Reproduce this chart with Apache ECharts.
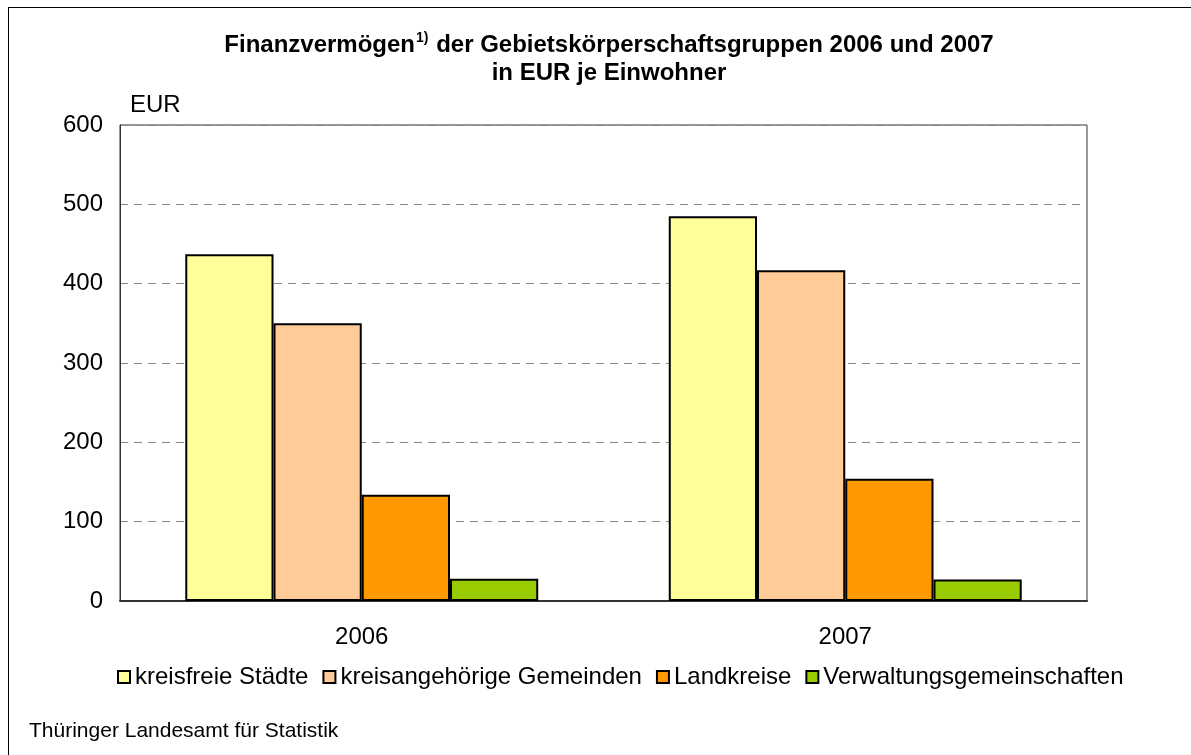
<!doctype html>
<html>
<head>
<meta charset="utf-8">
<title>Finanzvermögen</title>
<script src="https://cdn.jsdelivr.net/npm/echarts@6/dist/echarts.min.js"></script>
<style>
  html, body { margin: 0; padding: 0; background: #fff; }
  #frame { position: absolute; left: 8px; top: 7px; width: 1200px; height: 760px; border-left: 1px solid #000; border-top: 1px solid #000; }
  #chart { position: absolute; left: 0; top: 0; width: 1191px; height: 755px; }
</style>
</head>
<body>
<div id="frame"></div>
<div id="chart"></div>
<script>
var years = ['2006', '2007'];
var seriesNames = ['kreisfreie Städte', 'kreisangehörige Gemeinden', 'Landkreise', 'Verwaltungsgemeinschaften'];
var kreisfreieStaedte = [437, 485];
var kreisangehoerigeGemeinden = [350, 417];
var landkreise = [134, 154];
var verwaltungsgemeinschaften = [28, 27];
var colors = ['#ffff99', '#ffcc99', '#ff9900', '#99cc00'];
var allValues = [kreisfreieStaedte, kreisangehoerigeGemeinden, landkreise, verwaltungsgemeinschaften];

var font = 'Liberation Sans, Arial, sans-serif';

var series = [];
for (var i = 0; i < seriesNames.length; i++) {
  series.push({
    name: seriesNames[i],
    type: 'bar',
    data: allValues[i],
    barGap: '0%',
    barCategoryGap: '27%',
    itemStyle: { color: colors[i], borderColor: '#000', borderWidth: 2 }
  });
}

var option = {
  animation: false,
  textStyle: { fontFamily: font },
  legend: {
    data: seriesNames,
    top: 660,
    left: 112,
    itemWidth: 12,
    itemHeight: 12,
    itemGap: 14,
    icon: 'rect',
    itemStyle: { borderColor: '#000', borderWidth: 2 },
    textStyle: { fontFamily: font, fontSize: 24, color: '#000' }
  },
  grid: { left: 120, right: 104, top: 125, bottom: 154, show: true, borderColor: '#333', borderWidth: 1, backgroundColor: 'transparent' },
  xAxis: {
    type: 'category',
    data: years,
    axisLine: { lineStyle: { color: '#333', width: 2 } },
    axisTick: { show: false },
    axisLabel: { fontFamily: font, fontSize: 24, color: '#000', margin: 24 }
  },
  yAxis: {
    type: 'value',
    min: 0,
    max: 600,
    interval: 100,
    axisLine: { show: true, lineStyle: { color: '#333', width: 1 } },
    axisTick: { show: false },
    axisLabel: { fontFamily: font, fontSize: 24, color: '#000', margin: 17 },
    splitLine: { lineStyle: { color: '#888', type: [8, 6], width: 1 } }
  },
  graphic: [
    {
      type: 'text',
      x: 609,
      y: 45,
      style: {
        text: '{t|Finanzvermögen}{s|1)}{t| der Gebietskörperschaftsgruppen 2006 und 2007}',
        align: 'center',
        verticalAlign: 'middle',
        rich: {
          t: { fontFamily: font, fontWeight: 'bold', fontSize: 24, fill: '#000' },
          s: { fontFamily: font, fontWeight: 'bold', fontSize: 14, fill: '#000', padding: [0, 1, 14, 1] }
        }
      }
    },
    {
      type: 'text',
      x: 609,
      y: 73,
      style: { text: 'in EUR je Einwohner', align: 'center', verticalAlign: 'middle', font: 'bold 24px ' + font, fill: '#000' }
    },
    {
      type: 'text',
      x: 130,
      y: 105,
      style: { text: 'EUR', verticalAlign: 'middle', font: '24px ' + font, fill: '#000' }
    },
    {
      type: 'text',
      x: 29,
      y: 731,
      style: { text: 'Thüringer Landesamt für Statistik', verticalAlign: 'middle', font: '21px ' + font, fill: '#000' }
    }
  ],
  series: series
};

var myChart = echarts.init(document.getElementById('chart'));
myChart.setOption(option);
</script>
</body>
</html>
